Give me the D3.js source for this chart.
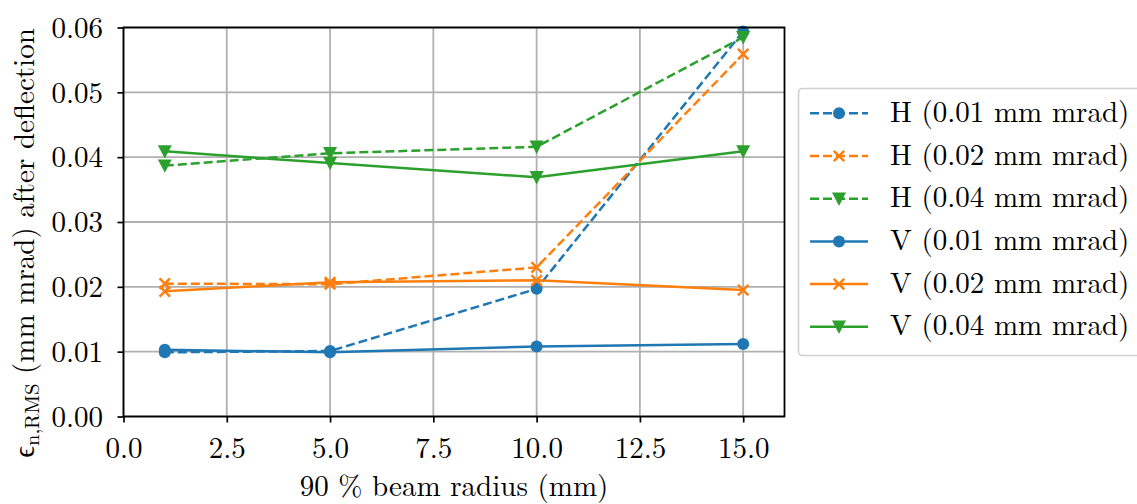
<!DOCTYPE html>
<html>
<head>
<meta charset="utf-8">
<script src="https://cdn.jsdelivr.net/npm/d3@7"></script>
<style>
  html, body { margin: 0; padding: 0; background: #fff; }
  svg { display: block; }
</style>
</head>
<body>
<svg id="chart" width="1137" height="504"></svg>
<script>
// Beam radius (mm) at which emittance was evaluated
const radii = [1, 5, 10, 15];

// Normalised RMS emittance after deflection (mm mrad)
const hEmit001 = [0.0099, 0.0101, 0.0197, 0.0594];
const hEmit002 = [0.0205, 0.0204, 0.0230, 0.0559];
const hEmit004 = [0.0387, 0.0406, 0.0416, 0.0585];
const vEmit001 = [0.0103, 0.0099, 0.0108, 0.0112];
const vEmit002 = [0.0193, 0.0207, 0.0210, 0.0195];
const vEmit004 = [0.0409, 0.0391, 0.0369, 0.0409];

const seriesLabels = [
  "H (0.01 mm mrad)", "H (0.02 mm mrad)", "H (0.04 mm mrad)",
  "V (0.01 mm mrad)", "V (0.02 mm mrad)", "V (0.04 mm mrad)"
];

const xTicks = [0, 2.5, 5, 7.5, 10, 12.5, 15];
const yTicks = [0, 0.01, 0.02, 0.03, 0.04, 0.05, 0.06];

const palette = ["#1f77b4", "#ff7f0e", "#2ca02c"];
const markerKinds = ["circle", "cross", "triangle"];

const FONT = "'Latin Modern Roman', 'CMU Serif', 'Liberation Serif', serif";
const FS = 29;
const DASH = "9,4";
const LW = 2.5;

const series = [hEmit001, hEmit002, hEmit004, vEmit001, vEmit002, vEmit004].map((vals, i) => ({
  label: seriesLabels[i],
  values: vals,
  color: palette[i % 3],
  marker: markerKinds[i % 3],
  dashed: i < 3
}));

const svg = d3.select("#chart");
const plot = { left: 123.5, right: 784.5, top: 27.5, bottom: 416.5 };

const x = d3.scaleLinear().domain([0, 16]).range([plot.left, plot.right]);
const y = d3.scaleLinear().domain([0, 0.06]).range([plot.bottom, plot.top]);

// Grid
const grid = svg.append("g");
grid.selectAll("line.gx").data(xTicks).join("line")
  .attr("x1", d => x(d)).attr("x2", d => x(d))
  .attr("y1", plot.top).attr("y2", plot.bottom)
  .attr("stroke", "#b0b0b0").attr("stroke-width", 1.8);
grid.selectAll("line.gy").data(yTicks).join("line")
  .attr("y1", d => y(d)).attr("y2", d => y(d))
  .attr("x1", plot.left).attr("x2", plot.right)
  .attr("stroke", "#b0b0b0").attr("stroke-width", 1.8);

// Marker shapes: filled circle, "x" cross, downward triangle
function drawMarker(g, kind, cx, cy, color) {
  if (kind === "circle") {
    g.append("circle").attr("cx", cx).attr("cy", cy).attr("r", 6).attr("fill", color);
  } else if (kind === "cross") {
    const s = 5.2;
    g.append("path")
      .attr("d", `M${cx - s},${cy - s}L${cx + s},${cy + s}M${cx - s},${cy + s}L${cx + s},${cy - s}`)
      .attr("stroke", color).attr("stroke-width", 2.5).attr("fill", "none");
  } else {
    const w = 7, h = 6.2;
    g.append("path")
      .attr("d", `M${cx - w},${cy - h}L${cx + w},${cy - h}L${cx},${cy + h + 1}Z`)
      .attr("fill", color);
  }
}

// Data lines and markers
const line = d3.line().x((d, i) => x(radii[i])).y(d => y(d));
const dataLayer = svg.append("g");
series.forEach(s => {
  dataLayer.append("path")
    .datum(s.values)
    .attr("d", line)
    .attr("fill", "none")
    .attr("stroke", s.color)
    .attr("stroke-width", LW)
    .attr("stroke-dasharray", s.dashed ? DASH : null);
  const mg = dataLayer.append("g");
  s.values.forEach((v, i) => drawMarker(mg, s.marker, x(radii[i]), y(v), s.color));
});

// Frame
svg.append("rect")
  .attr("x", plot.left).attr("y", plot.top)
  .attr("width", plot.right - plot.left).attr("height", plot.bottom - plot.top)
  .attr("fill", "none").attr("stroke", "#000").attr("stroke-width", 1.8);

// Axes
const fmtX = d3.format(".1f");
const fmtY = d3.format(".2f");
const xAxis = svg.append("g").attr("transform", `translate(0,${plot.bottom})`)
  .call(d3.axisBottom(x).tickValues(xTicks).tickFormat(fmtX).tickSize(6));
const yAxis = svg.append("g").attr("transform", `translate(${plot.left},0)`)
  .call(d3.axisLeft(y).tickValues(yTicks).tickFormat(fmtY).tickSize(6));
[xAxis, yAxis].forEach(a => {
  a.select(".domain").remove();
  a.selectAll(".tick line").attr("stroke", "#000").attr("stroke-width", 1.7);
  a.selectAll(".tick text")
    .style("font-family", FONT).style("font-size", FS + "px").attr("fill", "#000");
});
xAxis.selectAll(".tick text").attr("dy", null).attr("y", 41.5);
yAxis.selectAll(".tick text").attr("dy", null).attr("x", -20.5).attr("y", 9.8);

// Axis titles
svg.append("text")
  .attr("x", (plot.left + plot.right) / 2)
  .attr("y", 495.5)
  .attr("text-anchor", "middle")
  .style("font-family", FONT).style("font-size", FS + "px")
  .text("90 % beam radius (mm)");

const yTitle = svg.append("text")
  .attr("transform", `translate(33.5,243) rotate(-90)`)
  .attr("text-anchor", "middle")
  .style("font-family", FONT).style("font-size", FS + "px");
yTitle.append("tspan").text("\u03F5");
yTitle.append("tspan").style("font-size", "20.5px").attr("dy", 5).text("n,RMS");
yTitle.append("tspan").attr("dy", -5).text(" (mm mrad) after deflection");

// Legend
const legend = svg.append("g");
legend.append("rect")
  .attr("x", 798.5).attr("y", 88.5)
  .attr("width", 360).attr("height", 267)
  .attr("rx", 4)
  .attr("fill", "#fff").attr("fill-opacity", 0.8)
  .attr("stroke", "#d0d0d0").attr("stroke-width", 1.6);

series.forEach((s, i) => {
  const cy = 113.3 + i * 42.7;
  const g = legend.append("g");
  g.append("line")
    .attr("x1", 810).attr("x2", 868).attr("y1", cy).attr("y2", cy)
    .attr("stroke", s.color).attr("stroke-width", LW)
    .attr("stroke-dasharray", s.dashed ? DASH : null);
  drawMarker(g, s.marker, 839, cy, s.color);
  g.append("text")
    .attr("x", 890).attr("y", cy + 8.5)
    .style("font-family", FONT).style("font-size", FS + "px")
    .text(s.label);
});
</script>
</body>
</html>
